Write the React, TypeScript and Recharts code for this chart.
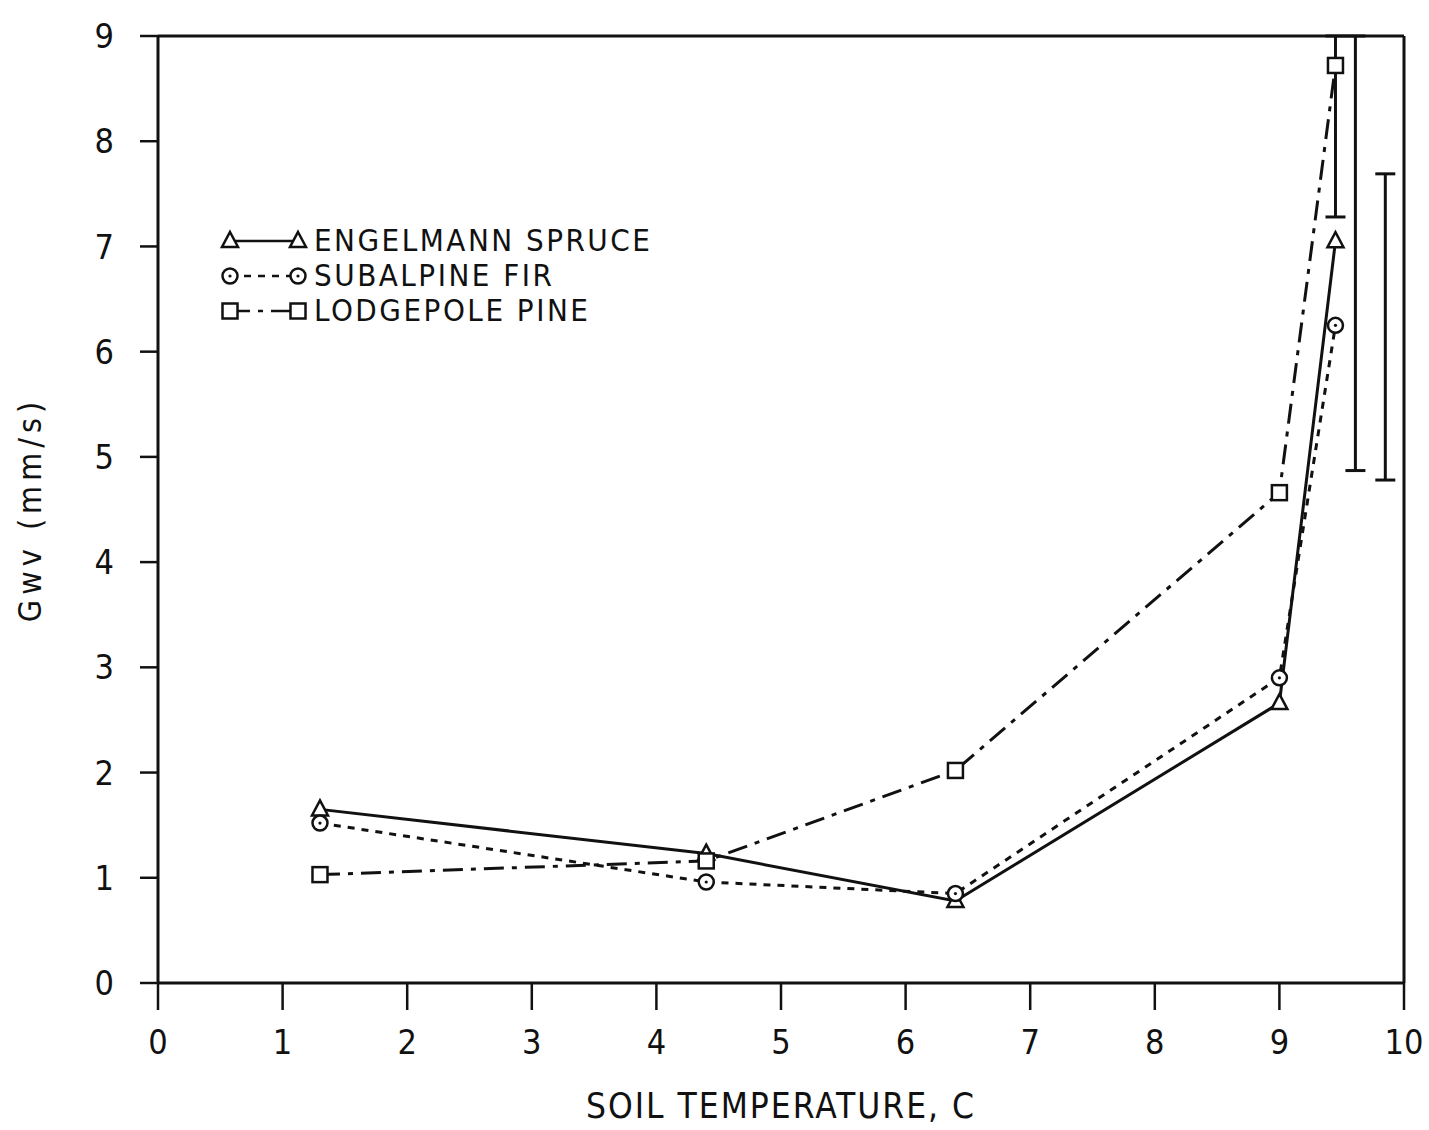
import React from 'react';
import {
  LineChart,
  Line,
  Scatter,
  ErrorBar,
  XAxis,
  YAxis,
  ReferenceLine,
} from 'recharts';

// ─── Data ───────────────────────────────────────────────────────────────────
const soilTemps = [1.3, 4.4, 6.4, 9.0, 9.45];
const spruceGwv = [1.65, 1.23, 0.78, 2.66, 7.05];
const firGwv = [1.52, 0.96, 0.85, 2.9, 6.25];
const pineGwv = [1.03, 1.16, 2.02, 4.66, 8.72];

// vertical range bars on the right (upper ends run off the top of the plot)
const rangeX = [9.45, 9.61, 9.85];
const rangeLow = [7.28, 4.87, 4.78];
const rangeHigh = [9, 9, 7.69];

const xTicks = [0, 1, 2, 3, 4, 5, 6, 7, 8, 9, 10];
const yTicks = [0, 1, 2, 3, 4, 5, 6, 7, 8, 9];

const toRows = (vals: number[]) => soilTemps.map((x, i) => ({ x, y: vals[i] }));
const spruceData = toRows(spruceGwv);
const firData = toRows(firGwv);
const pineData = toRows(pineGwv);
const rangeData = rangeX.map((x, i) => ({ x, y: rangeLow[i], span: rangeHigh[i] - rangeLow[i] }));

const INK = '#111';
const FONT = '"DejaVu Sans Condensed", "Liberation Sans Narrow", "Liberation Sans", sans-serif';

// ─── Markers ────────────────────────────────────────────────────────────────
const Triangle = ({ cx, cy }: any) => (
  <path d={`M${cx},${cy - 9} L${cx + 8},${cy + 6} L${cx - 8},${cy + 6} Z`} fill="#fff" stroke={INK} strokeWidth={2.5} />
);
const Circle = ({ cx, cy }: any) => (
  <g>
    <circle cx={cx} cy={cy} r={7.5} fill="#fff" stroke={INK} strokeWidth={2.5} />
    <circle cx={cx} cy={cy} r={1.6} fill={INK} />
  </g>
);
const Square = ({ cx, cy }: any) => (
  <rect x={cx - 7.5} y={cy - 7.5} width={15} height={15} fill="#fff" stroke={INK} strokeWidth={2.5} />
);

const series = [
  { name: 'ENGELMANN SPRUCE', data: spruceData, dash: undefined, Marker: Triangle },
  { name: 'SUBALPINE FIR', data: firData, dash: '7 7', Marker: Circle },
  { name: 'LODGEPOLE PINE', data: pineData, dash: '20 8 5 8', Marker: Square },
];

const LegendBox = () => (
  <div style={{ position: 'absolute', left: 218, top: 223, fontFamily: FONT }}>
    {series.map(({ name, dash, Marker }) => (
      <div key={name} style={{ display: 'flex', alignItems: 'center', height: 35 }}>
        <svg width={96} height={30}>
          <line x1={12} y1={15} x2={80} y2={15} stroke={INK} strokeWidth={2.5} strokeDasharray={dash} />
          <Marker cx={12} cy={15} />
          <Marker cx={80} cy={15} />
        </svg>
        <span style={{ fontSize: 31, lineHeight: '35px', letterSpacing: 2.5, color: INK, whiteSpace: 'nowrap' }}>
          {name}
        </span>
      </div>
    ))}
  </div>
);

export default function App() {
  return (
    <div style={{ position: 'relative', width: 1429, height: 1130, background: '#fff', fontFamily: FONT }}>
      <style>{'body{margin:0}'}</style>
      <LineChart width={1429} height={1130} margin={{ top: 36, right: 25, bottom: 0, left: 0 }}>
        <XAxis
          dataKey="x"
          type="number"
          domain={[0, 10]}
          ticks={xTicks}
          allowDuplicatedCategory={false}
          height={147}
          stroke={INK}
          axisLine={{ strokeWidth: 3 }}
          tickLine={{ strokeWidth: 2.5 }}
          tickSize={27}
          tickMargin={20}
          tick={{ fill: INK, fontSize: 34, fontFamily: FONT }}
          label={{
            value: 'SOIL TEMPERATURE, C',
            position: 'insideBottom',
            offset: 12,
            fill: INK,
            fontSize: 35,
            fontFamily: FONT,
            style: { letterSpacing: 2 },
          }}
        />
        <YAxis
          type="number"
          domain={[0, 9]}
          ticks={yTicks}
          width={158}
          stroke={INK}
          axisLine={{ strokeWidth: 3 }}
          tickLine={{ strokeWidth: 2.5 }}
          tickSize={18}
          tickMargin={26}
          tick={{ fill: INK, fontSize: 34, fontFamily: FONT }}
          label={{
            value: 'Gwv (mm/s)',
            angle: -90,
            position: 'insideLeft',
            offset: 30,
            fill: INK,
            fontSize: 32,
            fontFamily: FONT,
            style: { textAnchor: 'middle', letterSpacing: 5 },
          }}
        />
        <ReferenceLine y={9} stroke={INK} strokeWidth={3} />
        <ReferenceLine x={10} stroke={INK} strokeWidth={3} />
        {series.map(({ name, data, dash, Marker }) => (
          <Line
            key={name}
            data={data}
            dataKey="y"
            name={name}
            stroke={INK}
            strokeWidth={3}
            strokeDasharray={dash}
            dot={(p: any) => <Marker key={`${name}-${p.index}`} cx={p.cx} cy={p.cy} />}
            activeDot={false}
            isAnimationActive={false}
            legendType="none"
          />
        ))}
        <Scatter data={rangeData} dataKey="y" shape={() => <g />} isAnimationActive={false} legendType="none">
          <ErrorBar
            dataKey={(d: any) => [0, d.span]}
            direction="y"
            width={10}
            stroke={INK}
            strokeWidth={3}
            isAnimationActive={false}
          />
        </Scatter>
      </LineChart>
      <LegendBox />
    </div>
  );
}
